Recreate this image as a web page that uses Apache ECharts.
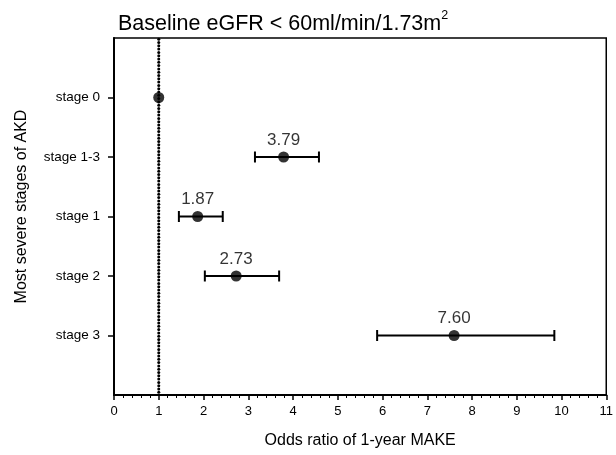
<!DOCTYPE html>
<html><head><meta charset="utf-8">
<script src="https://cdn.jsdelivr.net/npm/echarts@6/dist/echarts.min.js"></script>
<style>html,body{margin:0;padding:0;background:#fff}#c{width:616px;height:455px}</style>
</head><body><div id="c"></div>
<script>
const categories = ['stage 0', 'stage 1-3', 'stage 1', 'stage 2', 'stage 3'];
const oddsRatio = [1.00, 3.79, 1.87, 2.73, 7.60];
const ciLower = [null, 3.15, 1.45, 2.03, 5.88];
const ciUpper = [null, 4.58, 2.43, 3.69, 9.84];
const pointLabels = ['', '3.79', '1.87', '2.73', '7.60'];
const xTicks = [0,1,2,3,4,5,6,7,8,9,10,11];
const referenceOR = [1];

const FONT = 'Liberation Sans, Arial, Helvetica, sans-serif';
const chart = echarts.init(document.getElementById('c'), null, {renderer: 'canvas'});

const pointData = oddsRatio.map((v, i) => [v, i, pointLabels[i]]);
const ciData = ciLower.map((l, i) => [l, ciUpper[i], i]).filter(d => d[0] != null);

chart.setOption({
  animation: false,
  backgroundColor: '#fff',
  title: {
    text: '{a|Baseline eGFR < 60ml/min/1.73m}{s|2}',
    left: 113, top: 4,
    textStyle: {
      rich: {
        a: {fontFamily: FONT, fontSize: 21.5, fontWeight: 'normal', color: '#000', verticalAlign: 'bottom', lineHeight: 26},
        s: {fontFamily: FONT, fontSize: 12.5, fontWeight: 'normal', color: '#000', verticalAlign: 'top', lineHeight: 24}
      }
    }
  },
  grid: {left: 114, right: 6, top: 38, bottom: 60, show: true, borderColor: '#000', borderWidth: 1.5, backgroundColor: 'transparent'},
  xAxis: {
    type: 'value', min: xTicks[0], max: xTicks[xTicks.length - 1], interval: 1,
    name: 'Odds ratio of 1-year MAKE', nameLocation: 'middle', nameGap: 38,
    nameTextStyle: {fontFamily: FONT, fontSize: 16, color: '#000'},
    axisLine: {show: true, onZero: false, lineStyle: {color: '#000', width: 2}},
    axisTick: {show: true, inside: false, length: 5, lineStyle: {color: '#000', width: 1.5}},
    minorTick: {show: true, splitNumber: 5, length: 3, lineStyle: {color: '#000', width: 1}},
    axisLabel: {fontFamily: FONT, fontSize: 13, color: '#000', margin: 10},
    splitLine: {show: false}
  },
  yAxis: {
    type: 'value', min: -1, max: 5, interval: 1, inverse: true,
    name: 'Most severe stages of AKD', nameLocation: 'middle', nameGap: 84, nameRotate: 90,
    nameTextStyle: {fontFamily: FONT, fontSize: 16, color: '#000', padding: [0, 0, 0, 20]},
    axisLine: {show: true, onZero: false, lineStyle: {color: '#000', width: 2}},
    axisTick: {show: true, inside: false, length: 6, lineStyle: {color: '#000', width: 1.5}, customValues: [0,1,2,3,4]},
    axisLabel: {fontFamily: FONT, fontSize: 13.5, color: '#000', margin: 14, customValues: [0,1,2,3,4],
      formatter: v => categories[v] || ''},
    splitLine: {show: false}
  },
  series: [
    {
      type: 'custom',
      data: referenceOR.map(v => [v]),
      renderItem: function (params, api) {
        const a = api.coord([api.value(0), -1]);
        const b = api.coord([api.value(0), 5]);
        const step = 3.3;
        const n = Math.floor((b[1] - a[1] - 1) / step);
        const dots = [];
        for (let k = 0; k <= n; k++) {
          dots.push({type: 'circle', shape: {cx: a[0], cy: a[1] + 1.2 + k * step, r: 1.5},
            style: {fill: '#000'}});
        }
        return {type: 'group', children: dots};
      },
      silent: true,
      z: 2
    },
    {
      type: 'custom',
      data: ciData,
      renderItem: function (params, api) {
        const y = api.value(2);
        const p1 = api.coord([api.value(0), y]);
        const p2 = api.coord([api.value(1), y]);
        const h = 5.5;
        const st = {stroke: '#000', lineWidth: 2};
        return {type: 'group', children: [
          {type: 'line', shape: {x1: p1[0], y1: p1[1], x2: p2[0], y2: p2[1]}, style: st},
          {type: 'line', shape: {x1: p1[0], y1: p1[1] - h, x2: p1[0], y2: p1[1] + h}, style: st},
          {type: 'line', shape: {x1: p2[0], y1: p2[1] - h, x2: p2[0], y2: p2[1] + h}, style: st}
        ]};
      },
      z: 3
    },
    {
      type: 'scatter',
      data: pointData,
      symbol: 'circle', symbolSize: 11,
      itemStyle: {color: '#000'},
      label: {show: true, position: 'top', distance: 3, formatter: p => p.data[2],
        fontFamily: FONT, fontSize: 17, color: '#000'},
      z: 4
    }
  ]
});
</script></body></html>
